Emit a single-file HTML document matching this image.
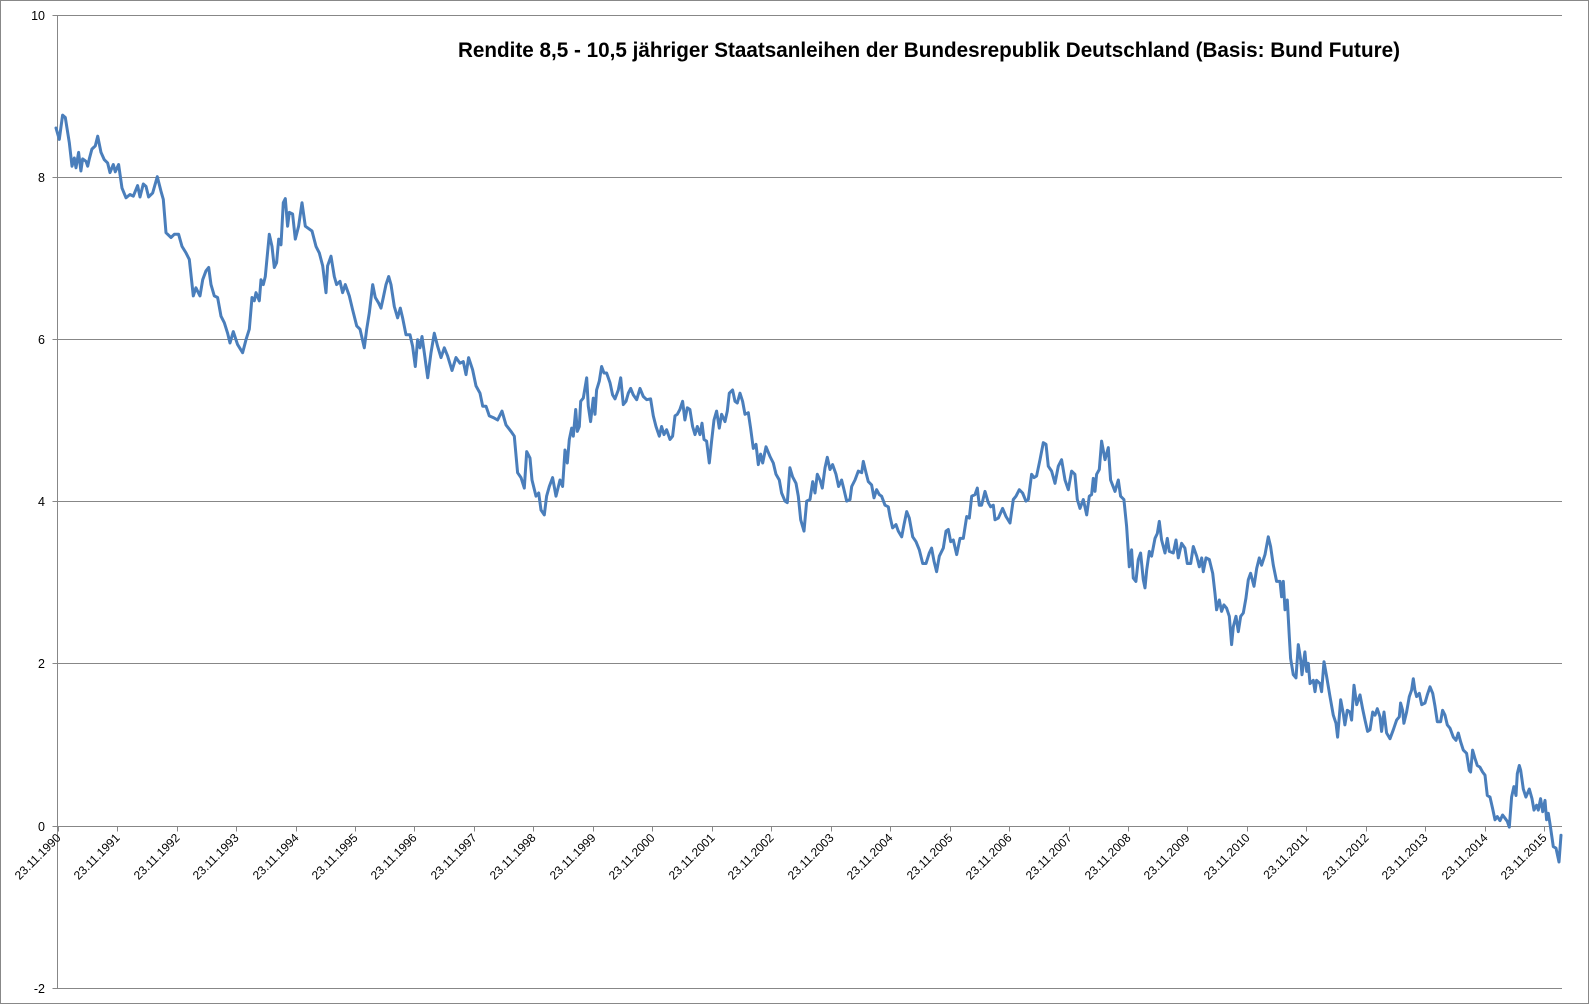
<!DOCTYPE html>
<html>
<head>
<meta charset="utf-8">
<style>
  html,body{margin:0;padding:0;background:#fff;}
  svg{display:block;font-family:"Liberation Sans",sans-serif;}
</style>
</head>
<body>
<svg id="chart" width="1589" height="1004" viewBox="0 0 1589 1004" xmlns="http://www.w3.org/2000/svg">
  <rect x="0.5" y="0.5" width="1588" height="1003" fill="#fff" stroke="#888" stroke-width="1"/>
  <text x="458" y="57" font-size="21" font-weight="bold" fill="#000" textLength="942" lengthAdjust="spacingAndGlyphs">Rendite 8,5 - 10,5 jähriger Staatsanleihen der Bundesrepublik Deutschland (Basis: Bund Future)</text>
  <g id="grid"></g>
  <g id="yaxis"></g>
  <g id="xaxis"></g>
  <g id="series"></g>
</svg>
<script>
const yTicks = [-2, 0, 2, 4, 6, 8, 10];
const xTickLabels = ["23.11.1990","23.11.1991","23.11.1992","23.11.1993","23.11.1994","23.11.1995","23.11.1996","23.11.1997","23.11.1998","23.11.1999","23.11.2000","23.11.2001","23.11.2002","23.11.2003","23.11.2004","23.11.2005","23.11.2006","23.11.2007","23.11.2008","23.11.2009","23.11.2010","23.11.2011","23.11.2012","23.11.2013","23.11.2014","23.11.2015"];
const xTickYears = [1990.894,1991.894,1992.894,1993.894,1994.894,1995.894,1996.894,1997.894,1998.894,1999.894,2000.894,2001.894,2002.894,2003.894,2004.894,2005.894,2006.894,2007.894,2008.894,2009.894,2010.894,2011.894,2012.894,2013.894,2014.894,2015.894];
const dates = [1990.865,1990.921,1990.977,1991.022,1991.089,1991.134,1991.173,1991.201,1991.246,1991.285,1991.313,1991.370,1991.398,1991.426,1991.470,1991.527,1991.566,1991.622,1991.678,1991.734,1991.773,1991.829,1991.863,1991.919,1991.975,
1992.042,1992.110,1992.166,1992.238,1992.278,1992.334,1992.379,1992.423,1992.491,1992.569,1992.631,1992.670,1992.715,1992.799,1992.855,1992.928,1992.984,
1993.051,1993.107,1993.175,1993.219,1993.287,1993.332,1993.388,1993.433,1993.472,1993.528,1993.584,1993.640,1993.696,1993.752,1993.791,1993.847,1993.920,
1994.004,1994.061,1994.117,1994.161,1994.201,1994.229,1994.285,1994.313,1994.352,1994.386,1994.408,1994.453,1994.498,1994.537,1994.576,1994.610,1994.649,1994.688,1994.722,1994.761,1994.789,1994.845,1994.890,1994.946,
1995.002,1995.058,1995.170,1995.238,1995.294,1995.350,1995.406,1995.434,1995.490,1995.546,1995.585,1995.641,1995.686,1995.731,1995.798,1995.854,1995.922,1995.978,
1996.051,1996.090,1996.135,1996.191,1996.236,1996.292,1996.331,1996.370,1996.415,1996.460,1996.499,1996.555,1996.611,1996.656,1996.695,1996.751,1996.819,1996.863,1996.908,1996.947,1996.987,
1997.020,1997.060,1997.116,1997.172,1997.228,1997.284,1997.340,1997.396,1997.452,1997.525,1997.592,1997.660,1997.716,1997.760,1997.805,1997.872,1997.929,1997.996,
1998.041,1998.097,1998.153,1998.220,1998.293,1998.366,1998.433,1998.517,1998.573,1998.629,1998.685,1998.741,1998.781,1998.837,1998.870,1998.938,1998.983,
1999.022,1999.078,1999.117,1999.162,1999.218,1999.274,
1999.341,1999.386,1999.425,1999.465,1999.498,1999.538,1999.566,1999.605,1999.633,1999.667,1999.689,1999.734,1999.790,1999.818,1999.857,1999.902,1999.930,1999.958,
2000.003,2000.042,2000.081,2000.126,2000.182,2000.227,2000.266,2000.322,2000.362,2000.407,2000.451,2000.491,2000.530,2000.575,2000.631,2000.687,2000.743,2000.799,2000.866,2000.911,2000.956,
2001.012,2001.051,2001.090,2001.135,2001.191,2001.236,2001.275,2001.315,2001.359,2001.404,2001.443,2001.483,2001.527,2001.572,2001.612,2001.651,2001.696,2001.730,2001.763,2001.808,2001.853,2001.892,2001.931,2001.976,
2002.021,2002.060,2002.116,2002.156,2002.189,2002.245,2002.285,2002.324,2002.369,2002.413,2002.453,2002.509,2002.548,2002.593,2002.638,2002.677,2002.716,2002.750,2002.806,2002.873,2002.929,2002.974,
2003.030,2003.069,2003.125,2003.165,2003.209,2003.254,2003.310,2003.350,2003.389,2003.445,2003.490,2003.546,2003.591,2003.630,2003.669,2003.714,2003.753,2003.798,2003.837,2003.882,2003.927,2003.983,
2004.028,2004.078,2004.118,2004.163,2004.219,2004.247,2004.303,2004.359,2004.415,2004.443,2004.488,2004.527,2004.583,2004.622,2004.667,2004.712,2004.751,2004.807,2004.863,2004.891,2004.936,2004.992,
2005.032,2005.088,2005.127,2005.172,2005.217,2005.273,2005.329,2005.385,2005.441,2005.497,2005.553,2005.592,2005.631,2005.676,2005.721,2005.788,2005.833,2005.872,2005.912,2005.956,
2006.013,2006.069,2006.125,2006.181,2006.225,2006.265,2006.321,2006.360,2006.394,2006.433,2006.489,2006.545,2006.584,2006.629,2006.657,2006.713,2006.786,2006.842,2006.909,2006.965,
2007.010,2007.066,2007.122,2007.178,2007.217,2007.273,2007.313,2007.358,2007.414,2007.470,2007.515,2007.554,2007.610,2007.666,2007.722,
2007.778,2007.834,2007.890,2007.946,2008.002,2008.042,2008.087,2008.143,2008.199,2008.244,2008.283,2008.311,2008.339,2008.367,2008.412,2008.451,2008.507,2008.563,2008.602,2008.675,2008.731,2008.770,2008.826,2008.871,2008.916,2008.955,2008.983,
2009.028,2009.068,2009.107,2009.152,2009.180,2009.208,2009.253,2009.292,2009.348,2009.387,2009.421,2009.460,2009.516,2009.555,2009.589,2009.656,2009.701,2009.740,2009.796,2009.852,2009.892,2009.948,2009.993,
2010.049,2010.093,2010.133,2010.161,2010.206,2010.262,2010.318,2010.357,2010.385,2010.430,2010.469,2010.508,2010.553,2010.598,2010.637,2010.665,2010.710,2010.749,2010.789,2010.833,2010.878,2010.918,2010.957,
2011.013,2011.058,2011.103,2011.142,2011.198,2011.254,2011.293,2011.338,2011.394,2011.450,2011.478,2011.506,2011.534,2011.573,2011.607,2011.629,2011.674,2011.719,2011.758,2011.798,2011.820,2011.870,2011.899,2011.927,2011.955,
2012.011,2012.039,2012.067,2012.123,2012.151,2012.190,2012.235,2012.291,2012.347,2012.392,2012.420,2012.471,2012.515,2012.543,2012.583,2012.627,2012.655,2012.695,2012.740,2012.796,2012.840,2012.880,2012.924,2012.964,
2013.009,2013.048,2013.087,2013.132,2013.160,2013.199,2013.244,2013.300,2013.356,2013.412,2013.457,2013.479,2013.513,2013.535,2013.580,2013.625,2013.664,2013.692,2013.720,2013.748,2013.793,2013.833,2013.889,2013.928,2013.973,
2014.018,2014.057,2014.096,2014.152,2014.186,2014.225,2014.264,2014.309,2014.365,2014.410,2014.449,2014.489,2014.533,2014.589,2014.634,2014.657,2014.690,2014.729,2014.769,2014.813,2014.858,2014.898,2014.937,2014.982,
2015.027,2015.066,2015.105,2015.150,2015.195,2015.234,2015.273,2015.307,2015.346,2015.385,2015.419,2015.442,2015.475,2015.498,2015.542,2015.587,2015.643,2015.688,2015.722,2015.767,2015.795,2015.834,2015.868,2015.907,2015.935,2015.963,2015.991,
2016.047,2016.092,2016.131,2016.143,2016.176];
const yields = [8.60,8.46,8.76,8.73,8.42,8.13,8.23,8.11,8.30,8.07,8.22,8.19,8.13,8.22,8.34,8.38,8.50,8.30,8.21,8.17,8.05,8.15,8.06,8.15,7.86,
7.74,7.78,7.76,7.89,7.75,7.91,7.88,7.75,7.80,8.00,7.82,7.72,7.31,7.25,7.29,7.29,7.14,
7.06,6.98,6.53,6.63,6.53,6.73,6.84,6.88,6.67,6.53,6.51,6.28,6.20,6.07,5.95,6.09,5.93,
5.83,5.99,6.12,6.51,6.47,6.57,6.47,6.73,6.67,6.77,6.94,7.29,7.14,6.88,6.94,7.23,7.16,7.68,7.73,7.39,7.56,7.54,7.23,7.39,
7.68,7.39,7.33,7.14,7.06,6.90,6.57,6.90,7.02,6.77,6.67,6.71,6.57,6.67,6.53,6.36,6.16,6.12,
5.89,6.12,6.32,6.67,6.51,6.44,6.38,6.51,6.67,6.77,6.67,6.40,6.26,6.38,6.26,6.05,6.05,5.91,5.66,5.99,5.89,
6.03,5.83,5.52,5.83,6.07,5.91,5.77,5.89,5.79,5.61,5.77,5.70,5.72,5.56,5.77,5.62,5.42,5.33,
5.17,5.17,5.05,5.03,5.00,5.11,4.94,4.86,4.80,4.35,4.29,4.16,4.61,4.53,4.26,4.06,4.10,
3.89,3.83,4.06,4.18,4.29,4.06,
4.26,4.18,4.63,4.47,4.76,4.90,4.80,5.13,4.86,4.92,5.23,5.27,5.52,5.17,4.98,5.27,5.07,5.37,
5.48,5.66,5.58,5.58,5.46,5.31,5.26,5.37,5.52,5.19,5.23,5.33,5.39,5.31,5.25,5.39,5.29,5.25,5.26,5.05,4.92,
4.80,4.92,4.82,4.88,4.76,4.80,5.05,5.07,5.13,5.23,5.00,5.15,5.13,4.92,4.82,4.92,4.82,4.96,4.76,4.74,4.47,4.74,5.00,5.11,
4.90,5.07,4.98,5.11,5.33,5.37,5.23,5.21,5.33,5.23,5.07,5.09,4.90,4.65,4.70,4.45,4.58,4.47,4.67,4.55,4.47,4.33,
4.26,4.10,4.00,3.98,4.41,4.30,4.22,4.06,3.77,3.63,4.00,4.02,4.24,4.10,4.33,4.26,4.16,4.41,4.54,4.39,4.45,4.33,
4.18,4.26,4.14,4.00,4.02,4.18,4.26,4.37,4.35,4.49,4.35,4.24,4.20,4.04,4.14,4.08,4.06,3.95,3.93,3.81,3.67,3.71,
3.63,3.56,3.71,3.87,3.79,3.56,3.50,3.40,3.23,3.23,3.36,3.42,3.26,3.13,3.32,3.42,3.63,3.65,3.50,3.52,
3.34,3.54,3.54,3.81,3.79,4.06,4.08,4.16,3.95,3.95,4.12,3.98,3.93,3.95,3.77,3.79,3.91,3.81,3.73,4.02,
4.06,4.14,4.10,4.00,4.02,4.33,4.29,4.31,4.51,4.72,4.70,4.43,4.37,4.22,4.43,
4.51,4.26,4.14,4.37,4.33,4.02,3.91,4.02,3.83,4.06,4.08,4.28,4.12,4.33,4.39,4.74,4.51,4.66,4.26,4.12,4.26,4.06,4.02,3.69,3.19,3.40,3.05,
3.01,3.28,3.36,3.03,2.93,3.15,3.38,3.32,3.54,3.60,3.75,3.52,3.36,3.54,3.38,3.36,3.52,3.30,3.48,3.42,3.23,3.23,3.44,
3.32,3.19,3.30,3.13,3.30,3.28,3.11,2.86,2.66,2.78,2.64,2.72,2.68,2.58,2.23,2.45,2.58,2.39,2.58,2.62,2.80,3.03,3.11,
2.95,3.17,3.30,3.21,3.34,3.56,3.44,3.21,3.01,3.01,2.82,3.01,2.66,2.78,2.33,2.06,1.86,1.82,2.23,2.04,1.86,2.14,1.90,2.00,1.75,
1.79,1.65,1.79,1.75,1.65,2.02,1.84,1.59,1.36,1.26,1.09,1.55,1.38,1.24,1.42,1.40,1.30,1.73,1.49,1.61,1.44,1.30,1.16,1.18,
1.40,1.36,1.44,1.34,1.16,1.40,1.14,1.07,1.18,1.30,1.34,1.51,1.42,1.26,1.40,1.59,1.67,1.81,1.67,1.59,1.63,1.49,1.51,1.61,1.71,
1.63,1.47,1.28,1.28,1.42,1.36,1.24,1.20,1.09,1.05,1.14,1.03,0.93,0.89,0.68,0.66,0.93,0.83,0.74,0.72,0.66,0.62,0.37,0.35,
0.21,0.07,0.11,0.06,0.13,0.09,0.05,-0.02,0.35,0.48,0.37,0.64,0.74,0.68,0.45,0.35,0.45,0.33,0.19,0.25,0.19,0.33,0.17,0.31,0.07,0.15,0.02,
-0.26,-0.28,-0.41,-0.45,-0.12];

const NS = "http://www.w3.org/2000/svg";
const svg = document.getElementById('chart');
const gGrid = document.getElementById('grid');
const gY = document.getElementById('yaxis');
const gX = document.getElementById('xaxis');
const gS = document.getElementById('series');

const X0 = 57.7, PX_PER_YEAR = 59.46, YEAR0 = 1990.894;
const Y_ZERO = 825.5, PX_PER_UNIT = 81.1;
const PLOT_LEFT = 57.5, PLOT_RIGHT = 1562;
function xScale(year){ return X0 + (year - YEAR0) * PX_PER_YEAR; }
function yScale(v){ return Y_ZERO - v * PX_PER_UNIT; }

function mk(tag, attrs){
  const el = document.createElementNS(NS, tag);
  for (const k in attrs) el.setAttribute(k, attrs[k]);
  return el;
}

// gridlines + y labels
yTicks.forEach(function(v){
  const y = Math.round(yScale(v)) + 0.5;
  const line = mk('line', {x1: PLOT_LEFT - 5, x2: PLOT_RIGHT, y1: y, y2: y, stroke: '#878787', 'stroke-width': 1});
  
  
  gGrid.appendChild(line);
  const t = mk('text', {x: 45, y: y + 4.5, 'text-anchor': 'end', 'font-size': 12.5, fill: '#000'});
  t.textContent = String(v);
  
  
  gY.appendChild(t);
});
const yAxisLine = mk('line', {x1: PLOT_LEFT, x2: PLOT_LEFT, y1: Math.round(yScale(10)) + 0.5, y2: Math.round(yScale(-2)) + 0.5, stroke: '#878787', 'stroke-width': 1});


gY.appendChild(yAxisLine);

// x ticks + labels
const yAxis0 = Math.round(yScale(0)) + 0.5;
xTickYears.forEach(function(yr, i){
  const x = Math.round(xScale(yr)) + 0.5;
  const tick = mk('line', {x1: x, x2: x, y1: yAxis0, y2: yAxis0 + 5, stroke: '#878787', 'stroke-width': 1});
  
  
  gX.appendChild(tick);
  const tx = x + 3, ty = yAxis0 + 12;
  const t = mk('text', {x: tx, y: ty, 'text-anchor': 'end', 'font-size': 12, fill: '#000', transform: 'rotate(-45 ' + tx + ' ' + ty + ')'});
  t.textContent = xTickLabels[i];
  
  
  gX.appendChild(t);
});

// series line
let d = '';
for (let i = 0; i < dates.length; i++){
  d += (i ? 'L' : 'M') + xScale(dates[i]).toFixed(1) + ' ' + yScale(yields[i]).toFixed(1);
}
const path = mk('path', {d: d, fill: 'none', stroke: '#4a7ebb', 'stroke-width': 3, 'stroke-linejoin': 'round', 'stroke-linecap': 'round'});


gS.appendChild(path);
</script>
</body>
</html>
